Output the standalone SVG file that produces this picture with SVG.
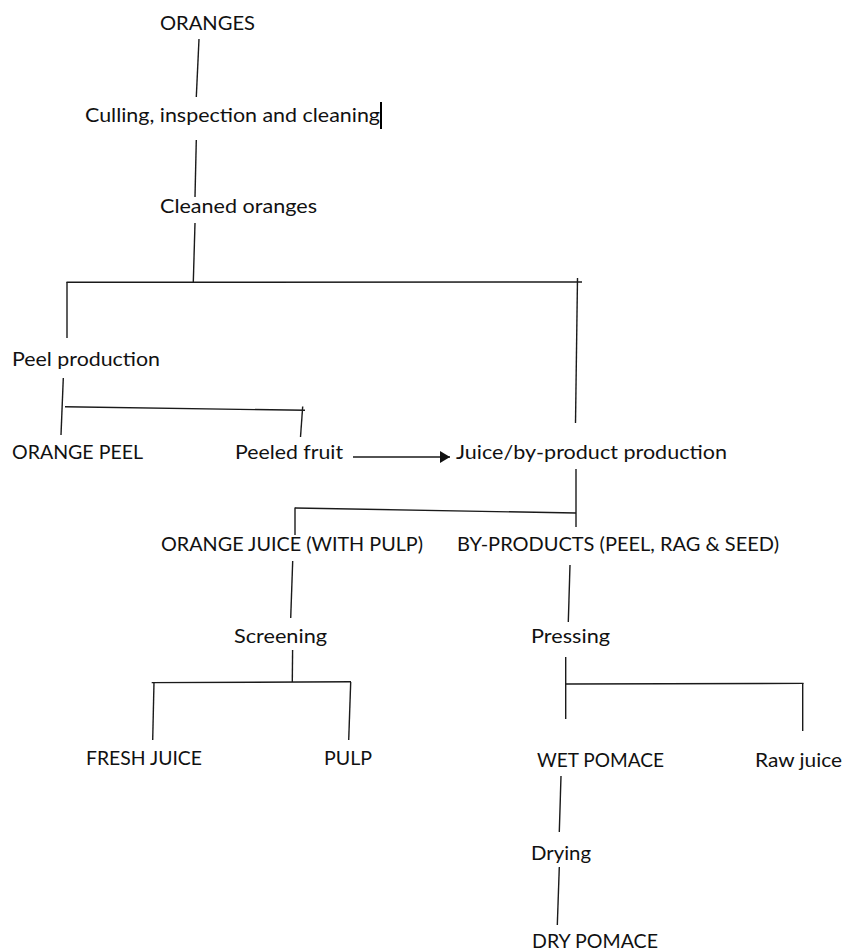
<svg xmlns="http://www.w3.org/2000/svg" width="844" height="951" viewBox="0 0 844 951">
<style>
  text { font-family: Lato, "Open Sans", "Liberation Sans", sans-serif; font-size: 19px; fill: #111; }
  .c line { stroke: #1a1a1a; stroke-width: 1.4; fill: none; }
</style>
<defs>
  <marker id="arrow" viewBox="0 0 10 12" refX="10" refY="6" markerWidth="11" markerHeight="12" markerUnits="userSpaceOnUse" orient="auto">
    <path d="M0,0 L10,6 L0,12 z" fill="#111"/>
  </marker>
</defs>
<rect width="844" height="951" fill="#fff"/>
<g id="connectors" class="c">
  <line x1="199" y1="39" x2="196.3" y2="97"/>
  <line x1="196.3" y1="140" x2="195" y2="197"/>
  <line x1="195" y1="223" x2="193.3" y2="282"/>
  <line x1="66.5" y1="282.3" x2="582" y2="282"/>
  <line x1="67" y1="282" x2="67" y2="338"/>
  <line x1="577.5" y1="278" x2="575.5" y2="423"/>
  <line x1="63.3" y1="378" x2="61" y2="435"/>
  <line x1="65" y1="406.8" x2="305" y2="410.3"/>
  <line x1="302.7" y1="406.5" x2="300.5" y2="437"/>
  <line x1="353" y1="457" x2="450" y2="457" marker-end="url(#arrow)"/>
  <line x1="576" y1="469" x2="576" y2="527"/>
  <line x1="295" y1="508" x2="576" y2="513"/>
  <line x1="295" y1="507.5" x2="295" y2="535"/>
  <line x1="292.7" y1="561" x2="290.7" y2="618"/>
  <line x1="292.6" y1="650" x2="292.3" y2="682"/>
  <line x1="151.7" y1="682.6" x2="351" y2="681.8"/>
  <line x1="154" y1="682" x2="152.7" y2="740"/>
  <line x1="350.7" y1="682" x2="348.7" y2="740"/>
  <line x1="570" y1="565" x2="568.3" y2="622"/>
  <line x1="565.7" y1="657" x2="565.7" y2="719"/>
  <line x1="566" y1="684" x2="803.5" y2="683.4"/>
  <line x1="802.7" y1="683" x2="802.7" y2="731"/>
  <line x1="561" y1="776" x2="559.3" y2="832"/>
  <line x1="559.3" y1="867" x2="557.3" y2="925"/>
</g>
<g id="oranges"><text x="160" y="30" textLength="95" lengthAdjust="spacingAndGlyphs">ORANGES</text></g>
<g id="culling"><text x="85" y="122" textLength="295" lengthAdjust="spacingAndGlyphs">Culling, inspection and cleaning</text>
  <rect x="380" y="102" width="2" height="27" fill="#000"/></g>
<g id="cleaned"><text x="160" y="213" textLength="157" lengthAdjust="spacingAndGlyphs">Cleaned oranges</text></g>
<g id="peel-production"><text x="12" y="366" textLength="148" lengthAdjust="spacingAndGlyphs">Peel production</text></g>
<g id="orange-peel"><text x="12" y="459" textLength="131" lengthAdjust="spacingAndGlyphs">ORANGE PEEL</text></g>
<g id="peeled-fruit"><text x="235" y="459" textLength="108" lengthAdjust="spacingAndGlyphs">Peeled fruit</text></g>
<g id="juice-production"><text x="456" y="459" textLength="271" lengthAdjust="spacingAndGlyphs">Juice/by-product production</text></g>
<g id="orange-juice"><text x="161" y="551" textLength="262" lengthAdjust="spacingAndGlyphs">ORANGE JUICE (WITH PULP)</text></g>
<g id="by-products"><text x="457" y="551" textLength="322" lengthAdjust="spacingAndGlyphs">BY-PRODUCTS (PEEL, RAG &amp; SEED)</text></g>
<g id="screening"><text x="234" y="643" textLength="93" lengthAdjust="spacingAndGlyphs">Screening</text></g>
<g id="pressing"><text x="531" y="643" textLength="79" lengthAdjust="spacingAndGlyphs">Pressing</text></g>
<g id="fresh-juice"><text x="86" y="765" textLength="116" lengthAdjust="spacingAndGlyphs">FRESH JUICE</text></g>
<g id="pulp"><text x="324" y="765" textLength="48" lengthAdjust="spacingAndGlyphs">PULP</text></g>
<g id="wet-pomace"><text x="537" y="767" textLength="127" lengthAdjust="spacingAndGlyphs">WET POMACE</text></g>
<g id="raw-juice"><text x="755" y="767" textLength="87" lengthAdjust="spacingAndGlyphs">Raw juice</text></g>
<g id="drying"><text x="531" y="860" textLength="60" lengthAdjust="spacingAndGlyphs">Drying</text></g>
<g id="dry-pomace"><text x="532" y="948" textLength="126" lengthAdjust="spacingAndGlyphs">DRY POMACE</text></g>
</svg>
